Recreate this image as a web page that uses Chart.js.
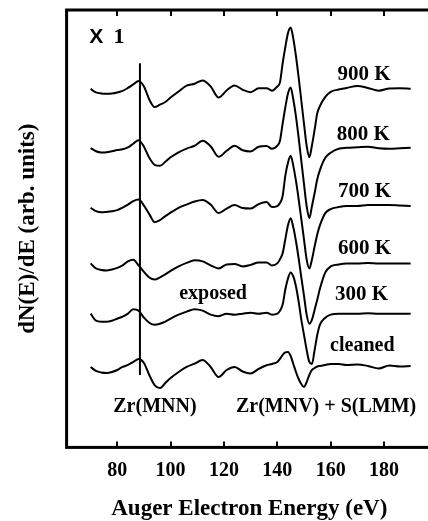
<!DOCTYPE html>
<html>
<head>
<meta charset="utf-8">
<script src="https://cdn.jsdelivr.net/npm/chart.js@4/dist/chart.umd.min.js"></script>
<style>
  html, body { margin: 0; padding: 0; background: #fff; overflow: hidden; }
  canvas { display: block; }
</style>
</head>
<body>
<canvas id="auger" width="436" height="521"></canvas>
<script>
// Auger dN(E)/dE spectra, stacked with a vertical offset per trace (arb. units)
const energies = [70, 72, 74, 76, 78, 80, 82, 84, 86, 88,
  90, 92, 94, 96, 98, 100, 103, 106, 109, 112,
  115, 118, 121, 124, 127, 130, 133, 136, 138, 140,
  141, 142, 143, 144, 145, 146, 147, 148, 149, 150,
  151, 152, 153, 154, 155, 156, 158, 160, 163, 166,
  170, 174, 178, 182, 186, 190];

const seriesNames = ["900 K", "800 K", "700 K", "600 K", "300 K", "cleaned"];
const offsets = [356, 296, 238, 182, 133, 80];

const spec900 = [0.5, -3, -4, -4.3, -4, -3, -1.5, 1.5, 5, 8.5,
  3, -10, -17.5, -15.2, -12.5, -8, -2, 3.8, 5.7, 9,
  3, -8, -1, 4, -0.3, -2.7, 1.2, 1.3, -1.2, 3,
  7, 26, 42, 56, 61.5, 50.5, 33, 12, -11, -34,
  -56, -67.5, -55.5, -40, -23.5, -16.5, -7.5, -2.5, 0, 1.5,
  3.5, 1.5, -1.2, 1, 1.3, 0.7];
const spec800 = [1.7, -1.5, -2.7, -2.5, -1.5, -0.3, 0.5, 2.3, 6, 9.5,
  3, -8, -15, -16, -12, -7.5, -2.5, 1.2, 4, 9,
  3.5, -7, -1, 4, -0.5, -1.7, 3, 3.8, 1, 4,
  9, 26, 42, 56, 62, 50, 33, 12, -11, -34,
  -56, -68, -56, -43, -29, -20, -8, -3, 1, 2,
  2.5, 3, 1.5, 1, 1.5, 2];
const spec700 = [0.3, -3, -4.2, -3.8, -3.2, -2, 0.5, 3.5, 7, 8.5,
  2.5, -6, -14, -12, -8, -4.5, 0.3, 3.5, 6.5, 8,
  3.5, -5, -0.5, 3, 0, -0.5, 4, 6, 1, 2,
  5, 12, 32, 45, 52, 42, 27, 9, -11, -31,
  -51, -60, -51, -38, -26, -17, -5, -1, 1, 2,
  2, 3, 3, 3, 2.5, 2];
const spec600 = [1, -4, -5.5, -6, -5, -3.5, -1, 3, 4.5, -1,
  -7.5, -13, -15, -13, -10, -6.5, -2, 1.5, 4, 3,
  -1, -4, 0, 0.5, -2, -0.5, 2, 2, -1, 1,
  5, 11, 25, 39, 46, 37, 23, 6, -13, -31,
  -50, -59, -55, -45, -35, -24, -8, -2, 0, 1,
  1, 1.5, 1, 1, 1, 1];
const spec300 = [0, -7, -8, -8, -7, -5, -3, 0, 4.5, 3,
  -4, -9, -11, -10, -8, -5, -1, 2, 4.5, 3,
  -1, -2.5, 0, -1, 0, 1, 0, 1, -1, 0,
  3, 9, 24, 35, 41, 37, 27, 12, -6, -21,
  -36, -48, -50, -36, -21, -11, -4, -1, 0, 0,
  0, 0.5, 0, 0, 0, 0];
const specCleaned = [0, -4, -5.5, -6, -5, -3, 0, 2, 5, 8,
  4, -8, -18, -21, -16, -11, -5, 0, 3.3, 7,
  0, -10, -3, 0, -4.5, -6.5, -2, 1.7, 3, 5,
  8, 12, 14.5, 15, 11, 3, -5, -12, -17, -20,
  -15, -8, -3, -1, 0.5, 1, 2, 3, 3, 2,
  2.5, 1, -1.5, 1.5, 0.5, 1];

const spectra = [spec900, spec800, spec700, spec600, spec300, specCleaned];
const xTicks = [80, 100, 120, 140, 160, 180];

// Zr(MNN) marker line
const markerEnergy = 88.5;
const markerSpan = [72, 382];

// text placed in data coordinates (energy, arb. units), left/baseline anchored
const notes = [
  { text: "900 K", x: 162.6, y: 365, kind: "temp" },
  { text: "800 K", x: 162.3, y: 306, kind: "temp" },
  { text: "700 K", x: 162.8, y: 249, kind: "temp" },
  { text: "600 K", x: 162.8, y: 192, kind: "temp" },
  { text: "300 K", x: 161.6, y: 147, kind: "temp" },
  { text: "cleaned", x: 159.8, y: 96, kind: "word" },
  { text: "exposed", x: 103.2, y: 148, kind: "word" },
  { text: "Zr(MNN)", x: 78.5, y: 35, kind: "word" },
  { text: "Zr(MNV) + S(LMM)", x: 124.5, y: 35, kind: "word" },
  { text: "X", x: 69.5, y: 402, kind: "xsans" },
  { text: "1", x: 78.6, y: 402, kind: "xserif" }
];

const SERIF = "'Liberation Serif', 'Times New Roman', serif";
const noteFonts = {
  temp: "bold 21px " + SERIF,
  word: "bold 20px " + SERIF,
  xsans: "bold 21px 'Liberation Sans', Arial, sans-serif",
  xserif: "bold 22px " + SERIF
};

const datasets = spectra.map((vals, k) => ({
  label: seriesNames[k],
  data: energies.map((e, i) => ({ x: e, y: offsets[k] + vals[i] })),
  borderColor: "#000",
  borderWidth: 2,
  pointRadius: 0,
  fill: false,
  cubicInterpolationMode: "monotone"
}));

datasets.push({
  label: "Zr(MNN) line",
  data: [{ x: markerEnergy, y: markerSpan[0] }, { x: markerEnergy, y: markerSpan[1] }],
  borderColor: "#000",
  borderWidth: 2,
  pointRadius: 0
});

const decorations = {
  id: "decorations",
  afterDatasetsDraw(chart) {
    const { ctx, chartArea: a, scales: { x, y } } = chart;
    ctx.save();
    ctx.strokeStyle = "#000";
    ctx.lineWidth = 3;
    ctx.strokeRect(a.left, a.top, a.right - a.left, a.bottom - a.top);

    // inward ticks, top and bottom
    ctx.lineWidth = 2;
    x.ticks.forEach((t) => {
      const px = Math.round(x.getPixelForValue(t.value));
      ctx.beginPath();
      ctx.moveTo(px, a.top);
      ctx.lineTo(px, a.top + 6);
      ctx.moveTo(px, a.bottom);
      ctx.lineTo(px, a.bottom - 6);
      ctx.stroke();
    });

    ctx.fillStyle = "#000";
    ctx.textAlign = "left";
    ctx.textBaseline = "alphabetic";
    notes.forEach((n) => {
      ctx.font = noteFonts[n.kind];
      ctx.fillText(n.text, x.getPixelForValue(n.x), y.getPixelForValue(n.y));
    });
    ctx.restore();
  }
};

new Chart(document.getElementById("auger"), {
  type: "line",
  data: { datasets },
  options: {
    responsive: false,
    animation: false,
    devicePixelRatio: 1,
    layout: { padding: { top: 10, right: 4, left: 0, bottom: 0 } },
    plugins: { legend: { display: false }, tooltip: { enabled: false } },
    scales: {
      x: {
        type: "linear",
        min: 61,
        max: 198,
        grid: { display: false, drawTicks: false },
        border: { display: false },
        afterBuildTicks: (scale) => {
          scale.ticks = xTicks.map((v) => ({ value: v }));
        },
        ticks: {
          color: "#000",
          padding: 11,
          font: { family: SERIF, size: 20, weight: "bold" }
        },
        title: {
          display: true,
          text: "Auger Electron Energy (eV)",
          color: "#000",
          padding: { top: 2, bottom: -2 },
          font: { family: SERIF, size: 23, weight: "bold" }
        }
      },
      y: {
        min: 0,
        max: 435,
        grid: { display: false, drawTicks: false },
        border: { display: false },
        ticks: { display: false },
        title: {
          display: true,
          text: "dN(E)/dE (arb. units)",
          color: "#000",
          padding: { top: 14, bottom: 25 },
          font: { family: SERIF, size: 23, weight: "bold" }
        }
      }
    }
  },
  plugins: [decorations]
});
</script>
</body>
</html>
